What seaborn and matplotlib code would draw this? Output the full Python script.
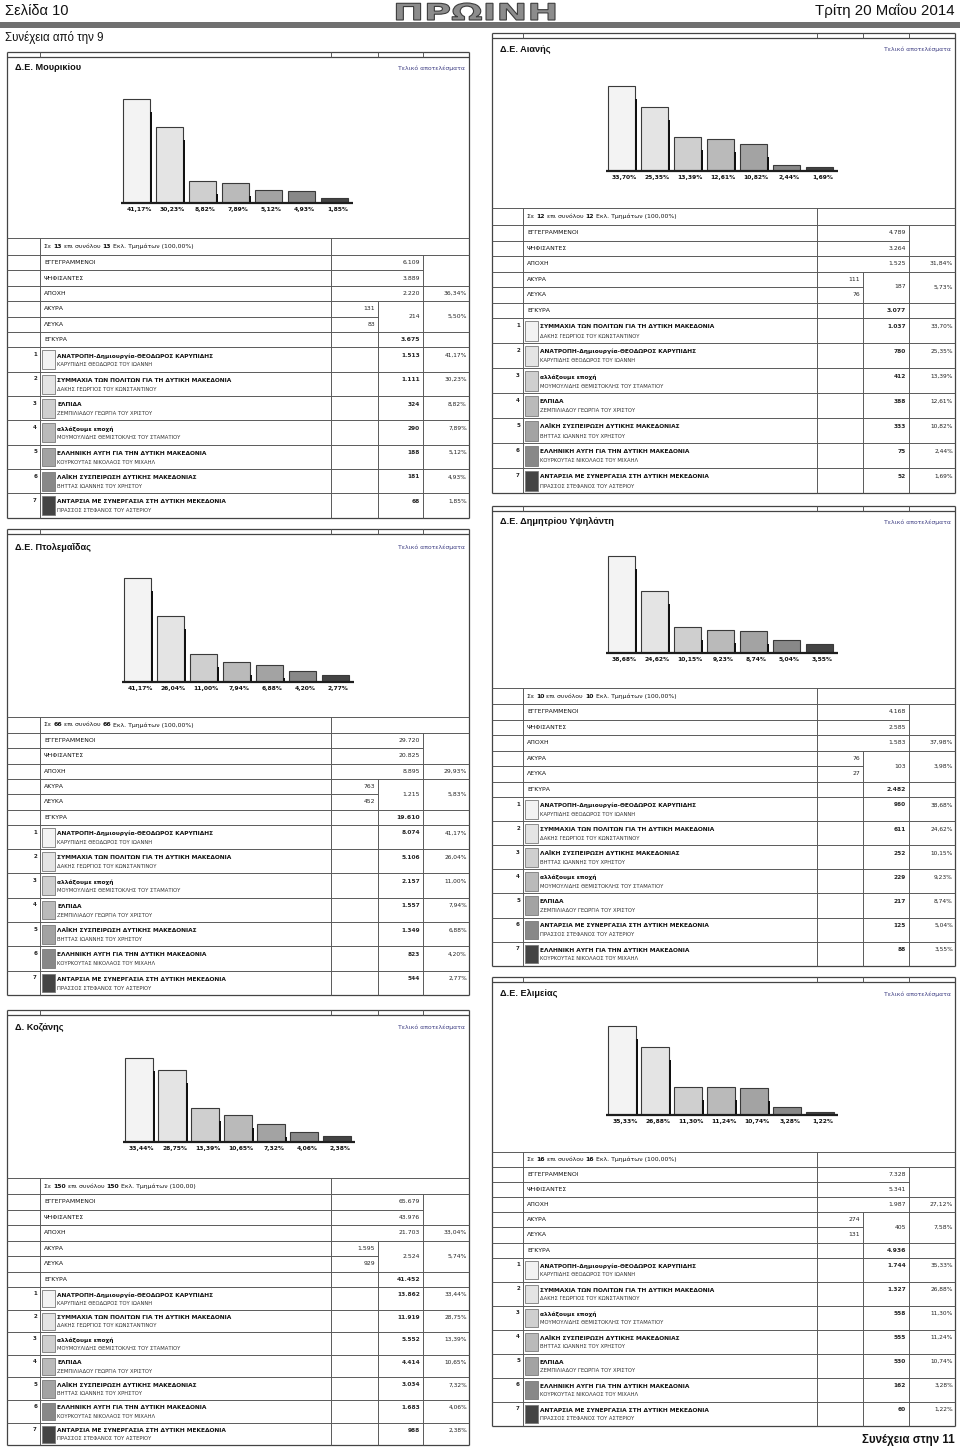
import numpy as np
import pandas as pd
import matplotlib
matplotlib.use("Agg")
import matplotlib.pyplot as plt
import seaborn as sns
from matplotlib.textpath import TextPath
from matplotlib.font_manager import FontProperties
from matplotlib.patches import PathPatch, Rectangle
from matplotlib.path import Path

sns.set_theme(style="white")
plt.rcParams["font.family"] = ["DejaVu Sans"]

# ------------------------------------------------------------------ data
PARTY_NAME = {
    "ANA": "ΑΝΑΤΡΟΠΗ-Δημιουργία-ΘΕΟΔΩΡΟΣ ΚΑΡΥΠΙΔΗΣ",
    "SYM": "ΣΥΜΜΑΧΙΑ ΤΩΝ ΠΟΛΙΤΩΝ ΓΙΑ ΤΗ ΔΥΤΙΚΗ ΜΑΚΕΔΟΝΙΑ",
    "ELP": "ΕΛΠΙΔΑ",
    "ALL": "αλλάξουμε εποχή",
    "AYG": "ΕΛΛΗΝΙΚΗ ΑΥΓΗ ΓΙΑ ΤΗΝ ΔΥΤΙΚΗ ΜΑΚΕΔΟΝΙΑ",
    "LAI": "ΛΑΪΚΗ ΣΥΣΠΕΙΡΩΣΗ ΔΥΤΙΚΗΣ ΜΑΚΕΔΟΝΙΑΣ",
    "ANT": "ΑΝΤΑΡΣΙΑ ΜΕ ΣΥΝΕΡΓΑΣΙΑ ΣΤΗ ΔΥΤΙΚΗ ΜΕΚΕΔΟΝΙΑ",
}
CANDIDATE = {
    "ANA": "ΚΑΡΥΠΙΔΗΣ ΘΕΟΔΩΡΟΣ ΤΟΥ ΙΩΑΝΝΗ",
    "SYM": "ΔΑΚΗΣ ΓΕΩΡΓΙΟΣ ΤΟΥ ΚΩΝΣΤΑΝΤΙΝΟΥ",
    "ELP": "ΖΕΜΠΙΛΙΑΔΟΥ ΓΕΩΡΓΙΑ ΤΟΥ ΧΡΙΣΤΟΥ",
    "ALL": "ΜΟΥΜΟΥΛΙΔΗΣ ΘΕΜΙΣΤΟΚΛΗΣ ΤΟΥ ΣΤΑΜΑΤΙΟΥ",
    "AYG": "ΚΟΥΡΚΟΥΤΑΣ ΝΙΚΟΛΑΟΣ ΤΟΥ ΜΙΧΑΗΛ",
    "LAI": "ΒΗΤΤΑΣ ΙΩΑΝΝΗΣ ΤΟΥ ΧΡΗΣΤΟΥ",
    "ANT": "ΠΡΑΣΣΟΣ ΣΤΕΦΑΝΟΣ ΤΟΥ ΑΣΤΕΡΙΟΥ",
}
ROW_LABELS = ["ΕΓΓΕΓΡΑΜΜΕΝΟΙ", "ΨΗΦΙΣΑΝΤΕΣ", "ΑΠΟΧΗ", "ΑΚΥΡΑ", "ΛΕΥΚΑ", "ΕΓΚΥΡΑ"]
RANK_SHADES = ["#f3f3f3", "#e4e4e4", "#cfcfcf", "#bababa", "#a3a3a3", "#888888", "#444444"]

# Δ.Ε. Μουρικίου
MOUR_TITLE = "Δ.Ε. Μουρικίου"
MOUR_SECTIONS = 13
MOUR_TOTALS = [6109, 3889, 2220, 131, 83, 214, 3675]
MOUR_TOTAL_PCT = [36.34, 5.50]
MOUR_ORDER = ["ANA", "SYM", "ELP", "ALL", "AYG", "LAI", "ANT"]
MOUR_VOTES = [1513, 1111, 324, 290, 188, 181, 68]
MOUR_PCT = [41.17, 30.23, 8.82, 7.89, 5.12, 4.93, 1.85]

# Δ.Ε. Πτολεμαΐδας
PTOL_TITLE = "Δ.Ε. Πτολεμαΐδας"
PTOL_SECTIONS = 66
PTOL_TOTALS = [29720, 20825, 8895, 763, 452, 1215, 19610]
PTOL_TOTAL_PCT = [29.93, 5.83]
PTOL_ORDER = ["ANA", "SYM", "ALL", "ELP", "LAI", "AYG", "ANT"]
PTOL_VOTES = [8074, 5106, 2157, 1557, 1349, 823, 544]
PTOL_PCT = [41.17, 26.04, 11.00, 7.94, 6.88, 4.20, 2.77]

# Δ. Κοζάνης
KOZ_TITLE = "Δ. Κοζάνης"
KOZ_SECTIONS = 150
KOZ_TOTALS = [65679, 43976, 21703, 1595, 929, 2524, 41452]
KOZ_TOTAL_PCT = [33.04, 5.74]
KOZ_ORDER = ["ANA", "SYM", "ALL", "ELP", "LAI", "AYG", "ANT"]
KOZ_VOTES = [13862, 11919, 5552, 4414, 3034, 1683, 988]
KOZ_PCT = [33.44, 28.75, 13.39, 10.65, 7.32, 4.06, 2.38]

# Δ.Ε. Αιανής
AIAN_TITLE = "Δ.Ε. Αιανής"
AIAN_SECTIONS = 12
AIAN_TOTALS = [4789, 3264, 1525, 111, 76, 187, 3077]
AIAN_TOTAL_PCT = [31.84, 5.73]
AIAN_ORDER = ["SYM", "ANA", "ALL", "ELP", "LAI", "AYG", "ANT"]
AIAN_VOTES = [1037, 780, 412, 388, 333, 75, 52]
AIAN_PCT = [33.70, 25.35, 13.39, 12.61, 10.82, 2.44, 1.69]

# Δ.Ε. Δημητρίου Υψηλάντη
YPS_TITLE = "Δ.Ε. Δημητρίου Υψηλάντη"
YPS_SECTIONS = 10
YPS_TOTALS = [4168, 2585, 1583, 76, 27, 103, 2482]
YPS_TOTAL_PCT = [37.98, 3.98]
YPS_ORDER = ["ANA", "SYM", "LAI", "ALL", "ELP", "ANT", "AYG"]
YPS_VOTES = [960, 611, 252, 229, 217, 125, 88]
YPS_PCT = [38.68, 24.62, 10.15, 9.23, 8.74, 5.04, 3.55]

# Δ.Ε. Ελιμείας
ELIM_TITLE = "Δ.Ε. Ελιμείας"
ELIM_SECTIONS = 16
ELIM_TOTALS = [7328, 5341, 1987, 274, 131, 405, 4936]
ELIM_TOTAL_PCT = [27.12, 7.58]
ELIM_ORDER = ["ANA", "SYM", "ALL", "LAI", "ELP", "AYG", "ANT"]
ELIM_VOTES = [1744, 1327, 558, 555, 530, 162, 60]
ELIM_PCT = [35.33, 26.88, 11.30, 11.24, 10.74, 3.28, 1.22]

PANELS = [
    (MOUR_TITLE, MOUR_SECTIONS, "(100,00%)", MOUR_TOTALS, MOUR_TOTAL_PCT, MOUR_ORDER, MOUR_VOTES, MOUR_PCT),
    (PTOL_TITLE, PTOL_SECTIONS, "(100,00%)", PTOL_TOTALS, PTOL_TOTAL_PCT, PTOL_ORDER, PTOL_VOTES, PTOL_PCT),
    (KOZ_TITLE, KOZ_SECTIONS, "(100,00)", KOZ_TOTALS, KOZ_TOTAL_PCT, KOZ_ORDER, KOZ_VOTES, KOZ_PCT),
    (AIAN_TITLE, AIAN_SECTIONS, "(100,00%)", AIAN_TOTALS, AIAN_TOTAL_PCT, AIAN_ORDER, AIAN_VOTES, AIAN_PCT),
    (YPS_TITLE, YPS_SECTIONS, "(100,00%)", YPS_TOTALS, YPS_TOTAL_PCT, YPS_ORDER, YPS_VOTES, YPS_PCT),
    (ELIM_TITLE, ELIM_SECTIONS, "(100,00%)", ELIM_TOTALS, ELIM_TOTAL_PCT, ELIM_ORDER, ELIM_VOTES, ELIM_PCT),
]

# ------------------------------------------------------------------ layout (pixels)
W, H = 960, 1447
COLS = [[7, 40, 331, 378, 423, 469], [492, 523, 817, 863, 909, 955]]
PX_PER_PCT = 2.52
LAYOUT = [
    dict(col=0, box=52, title=68, base=203, top=238, hdr=17, row=15.4, prow=24.3, bar1=136.5),
    dict(col=0, box=529, title=547, base=682, top=717, hdr=16, row=15.3, prow=24.3, bar1=137.5),
    dict(col=0, box=1010, title=1027, base=1142, top=1178, hdr=16, row=15.5, prow=22.6, bar1=139.0),
    dict(col=1, box=33, title=49, base=171, top=208, hdr=17, row=15.5, prow=25.0, bar1=621.5),
    dict(col=1, box=506, title=522, base=653, top=688, hdr=16, row=15.5, prow=24.1, bar1=621.5),
    dict(col=1, box=977, title=994, base=1115, top=1152, hdr=15, row=15.1, prow=24.0, bar1=622.0),
]

LINE_C = "#5a5a5a"
BOX_C = "#444444"


def fmt_int(v):
    return f"{v:,}".replace(",", ".")


def fmt_pct(p):
    return f"{p:.2f}".replace(".", ",") + "%"


fig = plt.figure(figsize=(W / 100, H / 100), dpi=100)
fig.patch.set_facecolor("white")
page = fig.add_axes([0, 0, 1, 1])
page.set_xlim(0, W)
page.set_ylim(H, 0)
page.axis("off")
renderer = fig.canvas.get_renderer()


def hline(x0, x1, y, c=LINE_C, lw=0.7):
    page.plot([x0, x1], [y, y], color=c, lw=lw, solid_capstyle="butt")


def vline(x, y0, y1, c=LINE_C, lw=0.7):
    page.plot([x, x], [y0, y1], color=c, lw=lw, solid_capstyle="butt")


def rich(x, y, parts, size):
    for txt, bold in parts:
        t = page.text(x, y, txt, fontsize=size, fontweight="bold" if bold else "normal",
                      ha="left", va="center", color="#111")
        x += t.get_window_extent(renderer).width


# ------------------------------------------------------------------ page header
page.text(5, 11, "Σελίδα 10", fontsize=10.5, family="Liberation Sans", va="center", ha="left", color="#111")
page.text(955, 11, "Τρίτη 20 Μαΐου 2014", fontsize=10.8, family="Liberation Sans", va="center", ha="right", color="#111")
page.add_patch(Rectangle((0, 22), W, 6, color="#707070", lw=0))
page.text(5, 38, "Συνέχεια από την 9", fontsize=8.3, family="Liberation Sans", va="center", ha="left", color="#111")
page.text(955, 1440, "Συνέχεια στην 11", fontsize=8.3, family="Liberation Sans", fontweight="bold",
          va="center", ha="right", color="#111")

# logo
tp = TextPath((0, 0), "ΠΡΩΙΝΗ", size=20, prop=FontProperties(family="DejaVu Sans", weight="bold"))
v = tp.vertices.copy()
xmin, ymin = v.min(axis=0)
xmax, ymax = v.max(axis=0)
lx0, lx1, ly0, ly1 = 393, 555, 3, 20
v[:, 0] = lx0 + (v[:, 0] - xmin) / (xmax - xmin) * (lx1 - lx0)
v[:, 1] = ly1 - (v[:, 1] - ymin) / (ymax - ymin) * (ly1 - ly0)
page.add_patch(PathPatch(Path(v, tp.codes), facecolor="#8c8c8c", edgecolor="#3c3c3c", lw=0.8))

# ------------------------------------------------------------------ panels
for P, L in zip(PANELS, LAYOUT):
    title, sections, suffix, totals, tot_pct, order, votes, pct = P
    x0, xa, xb, xc, xd, x1 = COLS[L["col"]]
    bt = L["box"]
    top, hd, r, pr = L["top"], L["hdr"], L["row"], L["prow"]
    ys = [top, top + hd] + [top + hd + r * (i + 1) for i in range(6)]
    pys = [ys[7] + pr * i for i in range(8)]
    bottom = pys[7]

    # box & top strip
    hline(x0, x1, bt, BOX_C, 0.9)
    hline(x0, x1, bt + 5, BOX_C, 0.9)
    for xx in (xa, xb, xc, xd):
        vline(xx, bt, bt + 5)
    vline(x0, bt, bottom, BOX_C, 0.9)
    vline(x1, bt, bottom, BOX_C, 0.9)

    # table horizontals
    for y in (ys[0], ys[1], ys[3], ys[4], ys[6], ys[7]):
        hline(x0, x1, y)
    hline(x0, xd, ys[2])
    hline(x0, xc, ys[5])
    for y in pys[1:-1]:
        hline(x0, x1, y)
    hline(x0, x1, bottom, BOX_C, 0.9)
    # table verticals
    vline(xa, ys[0], bottom)
    vline(xb, ys[0], bottom)
    vline(xc, ys[4], bottom)
    vline(xd, ys[1], bottom)

    # title
    page.text(x0 + 8, L["title"], title, fontsize=6.6, family="Liberation Sans", fontweight="bold",
              ha="left", va="center", color="#111")
    page.text(x1 - 4, L["title"], "Τελικό αποτελέσματα", fontsize=4.4, ha="right",
              va="center", color="#3d3d82")

    # header row
    rich(xa + 4, (ys[0] + ys[1]) / 2,
         [("Σε ", False), (str(sections), True), (" επι συνόλου ", False), (str(sections), True),
          (" Εκλ. Τμημάτων " + suffix, False)], 4.4)

    # summary rows
    fs = 4.4
    for i, lab in enumerate(ROW_LABELS):
        page.text(xa + 4, (ys[i + 1] + ys[i + 2]) / 2, lab, fontsize=fs, ha="left", va="center", color="#111")
    mid = lambda k: (ys[k] + ys[k + 1]) / 2
    page.text(xd - 3, mid(1), fmt_int(totals[0]), fontsize=fs, ha="right", va="center")
    page.text(xd - 3, mid(2), fmt_int(totals[1]), fontsize=fs, ha="right", va="center")
    page.text(xd - 3, mid(3), fmt_int(totals[2]), fontsize=fs, ha="right", va="center")
    page.text(x1 - 2, mid(3), fmt_pct(tot_pct[0]), fontsize=fs, ha="right", va="center")
    page.text(xc - 3, mid(4), fmt_int(totals[3]), fontsize=fs, ha="right", va="center")
    page.text(xc - 3, mid(5), fmt_int(totals[4]), fontsize=fs, ha="right", va="center")
    page.text(xd - 3, ys[5], fmt_int(totals[5]), fontsize=fs, ha="right", va="center")
    page.text(x1 - 2, ys[5], fmt_pct(tot_pct[1]), fontsize=fs, ha="right", va="center")
    page.text(xd - 3, mid(6), fmt_int(totals[6]), fontsize=fs, ha="right", va="center", fontweight="bold")

    # party rows
    for i, key in enumerate(order):
        t0 = pys[i]
        page.text(xa - 3, t0 + 0.3 * pr, str(i + 1), fontsize=4.0, fontweight="bold", ha="right", va="center")
        page.add_patch(Rectangle((xa + 2, t0 + 3), 13, pr - 5.5, facecolor=RANK_SHADES[i],
                                 edgecolor="#7a7a7a", lw=0.6))
        page.text(xa + 17, t0 + 0.35 * pr, PARTY_NAME[key], fontsize=4.2, fontweight="bold",
                  ha="left", va="center", color="#111")
        page.text(xa + 17, t0 + 0.72 * pr, CANDIDATE[key], fontsize=3.8, ha="left", va="center", color="#333")
        page.text(xd - 3, t0 + 0.33 * pr, fmt_int(votes[i]), fontsize=4.2, fontweight="bold",
                  ha="right", va="center")
        page.text(x1 - 2, t0 + 0.33 * pr, fmt_pct(pct[i]), fontsize=4.2, ha="right", va="center", color="#222")

    # bar chart
    ch = 130
    cx0 = L["bar1"] - 16.5
    ax = fig.add_axes([cx0 / W, 1 - L["base"] / H, 7 * 33 / W, ch / H])
    ax.patch.set_alpha(0)
    df = pd.DataFrame({"rank": [str(k + 1) for k in range(7)], "pct": pct})
    sns.barplot(data=df, x="rank", y="pct", hue="rank", palette=RANK_SHADES, legend=False,
                width=0.82, saturation=1, edgecolor="#3a3a3a", linewidth=0.8, ax=ax)
    pos = np.arange(7)
    shadow = np.clip(np.array(pct) - 13 / PX_PER_PCT, 0, None)
    ax.bar(pos + 0.41, shadow, width=0.065, align="edge", color="#111111", lw=0, zorder=3)
    ax.plot([-0.47, 6.56], [0, 0], color="#1e1e1e", lw=1.6, solid_capstyle="butt", clip_on=False, zorder=4)
    for k, p in enumerate(pct):
        ax.annotate(fmt_pct(p), (k, 0), xytext=(2.0, -3.0), textcoords="offset points",
                    ha="center", va="top", fontsize=4.3, fontweight="bold", color="#111",
                    annotation_clip=False)
    ax.set_xlim(-0.5, 6.5)
    ax.set_ylim(0, ch / PX_PER_PCT)
    ax.axis("off")

fig.savefig("out.png", dpi=100, facecolor="white")
